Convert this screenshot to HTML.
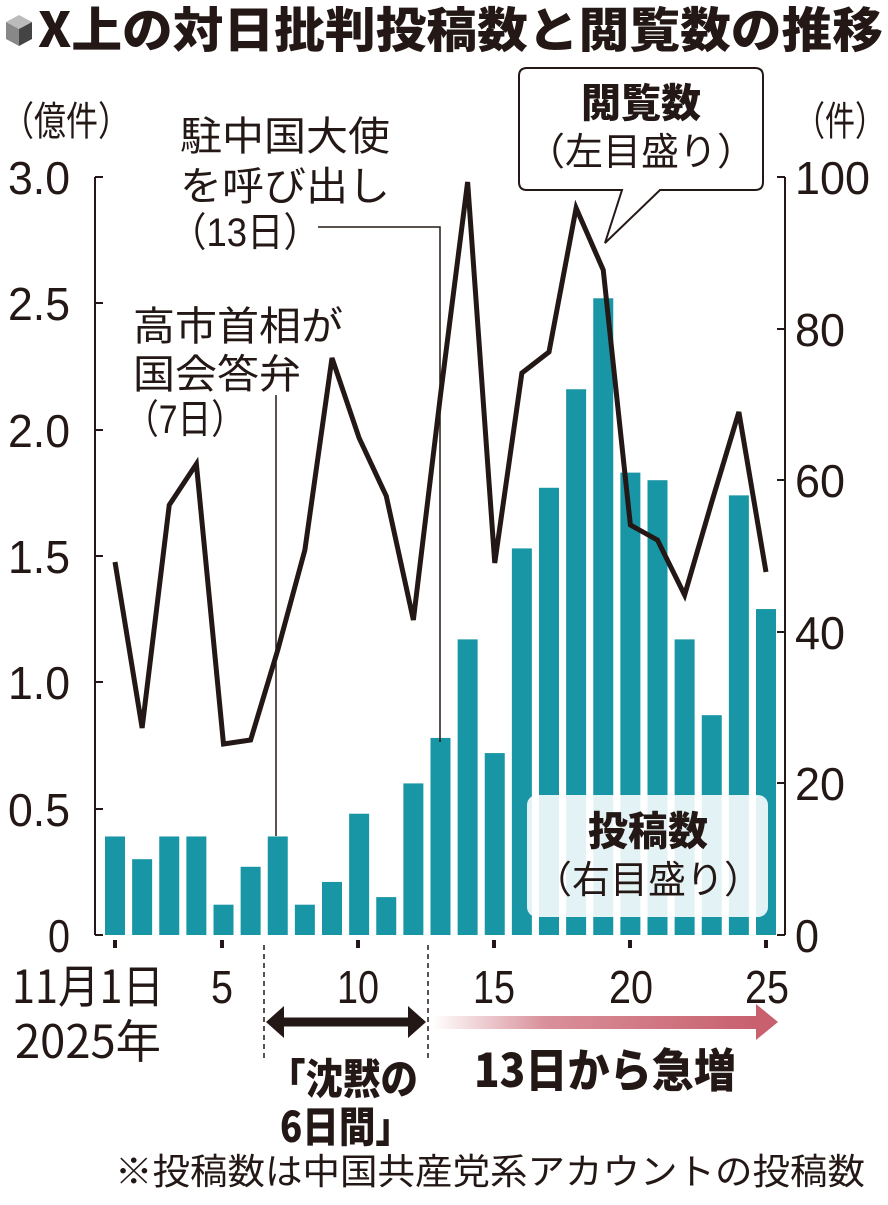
<!DOCTYPE html>
<html><head><meta charset="utf-8"><style>
body{margin:0;background:#fff}
text{font-family:"Liberation Sans","Noto Sans CJK JP",sans-serif;fill:#231815}
.j{font-family:"Noto Sans CJK JP",sans-serif}
</style></head><body>
<svg width="888" height="1200" viewBox="0 0 888 1200" xmlns="http://www.w3.org/2000/svg">
<defs><linearGradient id="g" x1="0" x2="1"><stop offset="0" stop-color="#c8606e" stop-opacity="0"/><stop offset="0.35" stop-color="#c8606e" stop-opacity="0.7"/><stop offset="1" stop-color="#c8606e"/></linearGradient></defs>
<polygon points="6,22 19,15 32,22 19,29" fill="#bbb"/><polygon points="6,22 19,29 19,46 6,39" fill="#888"/><polygon points="32,22 19,29 19,46 32,39" fill="#444"/>
<text x="38" y="47" class="j" font-size="48" font-weight="900" textLength="845" lengthAdjust="spacingAndGlyphs">X上の対日批判投稿数と閲覧数の推移</text>
<text x="2" y="135" class="j" font-size="40" textLength="128" lengthAdjust="spacingAndGlyphs">（億件）</text>
<text x="795" y="135" class="j" font-size="40" textLength="90" lengthAdjust="spacingAndGlyphs">（件）</text>
<g font-size="46">
<text x="8" y="194" textLength="62" lengthAdjust="spacingAndGlyphs">3.0</text>
<text x="8" y="320" textLength="62" lengthAdjust="spacingAndGlyphs">2.5</text>
<text x="8" y="447" textLength="62" lengthAdjust="spacingAndGlyphs">2.0</text>
<text x="8" y="573" textLength="62" lengthAdjust="spacingAndGlyphs">1.5</text>
<text x="8" y="699" textLength="62" lengthAdjust="spacingAndGlyphs">1.0</text>
<text x="8" y="826" textLength="62" lengthAdjust="spacingAndGlyphs">0.5</text>
<text x="48" y="952" textLength="22" lengthAdjust="spacingAndGlyphs">0</text>
</g>
<g font-size="46">
<text x="795" y="194" textLength="75" lengthAdjust="spacingAndGlyphs">100</text>
<text x="795" y="346" textLength="50" lengthAdjust="spacingAndGlyphs">80</text>
<text x="795" y="497" textLength="50" lengthAdjust="spacingAndGlyphs">60</text>
<text x="795" y="649" textLength="50" lengthAdjust="spacingAndGlyphs">40</text>
<text x="795" y="800" textLength="50" lengthAdjust="spacingAndGlyphs">20</text>
<text x="795" y="952" textLength="24" lengthAdjust="spacingAndGlyphs">0</text>
</g>
<g stroke="#231815" stroke-width="2" fill="none">
<path d="M95,177V935M95,177h8M95,303h8M95,430h8M95,556h8M95,682h8M95,809h8M95,935h8"/>
<path d="M785,177V935M785,177h-8M785,329h-8M785,480h-8M785,632h-8M785,783h-8M785,935h-8"/>
</g>
<g fill="#1996a5" id="bars"></g>
<g class="j" font-size="40">
<text x="180" y="150" textLength="210" lengthAdjust="spacingAndGlyphs">駐中国大使</text>
<text x="180" y="200" textLength="210" lengthAdjust="spacingAndGlyphs">を呼び出し</text>
<text x="170" y="246" textLength="150" lengthAdjust="spacingAndGlyphs">（13日）</text>
<text x="133" y="340" textLength="210" lengthAdjust="spacingAndGlyphs">高市首相が</text>
<text x="133" y="388" textLength="168" lengthAdjust="spacingAndGlyphs">国会答弁</text>
<text x="125" y="433" textLength="120" lengthAdjust="spacingAndGlyphs">（7日）</text>
</g>
<path d="M318,227H440V742" stroke="#231815" stroke-width="1.5" fill="none"/>
<path d="M276,395V836" stroke="#231815" stroke-width="1.5" fill="none"/>
<rect x="527" y="795" width="241" height="122" rx="10" fill="#fff" fill-opacity="0.88"/>
<text x="648" y="845" class="j" font-size="40" font-weight="900" text-anchor="middle">投稿数</text>
<text x="648" y="893" class="j" font-size="38" text-anchor="middle">（右目盛り）</text>
<polyline id="ln" fill="none" stroke="#231815" stroke-width="5" stroke-linejoin="miter"/>
<path d="M527,68H755Q763,68 763,76V182Q763,190 755,190H660L605,243L622,190H527Q519,190 519,182V76Q519,68 527,68Z" fill="#fff" stroke="#231815" stroke-width="2"/>
<text x="641" y="117" class="j" font-size="40" font-weight="900" text-anchor="middle">閲覧数</text>
<text x="641" y="165" class="j" font-size="38" text-anchor="middle">（左目盛り）</text>
<g fill="#231815"><rect x="113" y="940" width="4" height="8"/><rect x="220" y="940" width="4" height="8"/><rect x="356" y="940" width="4" height="8"/><rect x="492" y="940" width="4" height="8"/><rect x="628" y="940" width="4" height="8"/><rect x="764" y="940" width="4" height="8"/></g>
<g font-size="46">
<text x="12" y="1003" class="j" textLength="152" lengthAdjust="spacingAndGlyphs">11月1日</text>
<text x="211" y="1003" textLength="22" lengthAdjust="spacingAndGlyphs">5</text>
<text x="337" y="1003" textLength="42" lengthAdjust="spacingAndGlyphs">10</text>
<text x="473" y="1003" textLength="42" lengthAdjust="spacingAndGlyphs">15</text>
<text x="609" y="1003" textLength="44" lengthAdjust="spacingAndGlyphs">20</text>
<text x="745" y="1003" textLength="44" lengthAdjust="spacingAndGlyphs">25</text>
<text x="15" y="1058" class="j" textLength="146" lengthAdjust="spacingAndGlyphs">2025年</text>
</g>
<path d="M264,945V1060M428,945V1060" stroke="#231815" stroke-width="1.5" stroke-dasharray="5,4"/>
<path d="M282,1022H410" stroke="#231815" stroke-width="9"/>
<polygon points="266,1022 284,1006 284,1038" fill="#231815"/><polygon points="426,1022 408,1006 408,1038" fill="#231815"/>
<rect x="432" y="1016" width="325" height="13" fill="url(#g)"/>
<polygon points="756,1004 778,1022 756,1040" fill="#c8606e"/>
<text x="268" y="1094" class="j" font-size="42" font-weight="900" textLength="150" lengthAdjust="spacingAndGlyphs">「沈黙の</text>
<text x="280" y="1142" class="j" font-size="42" font-weight="900" textLength="132" lengthAdjust="spacingAndGlyphs">6日間」</text>
<text x="474" y="1087" class="j" font-size="46" font-weight="900" textLength="262" lengthAdjust="spacingAndGlyphs">13日から急増</text>
<text x="115" y="1184" class="j" font-size="36" textLength="750" lengthAdjust="spacingAndGlyphs">※投稿数は中国共産党系アカウントの投稿数</text>
</svg>
<script>
var b=[13,10,13,13,4,9,13,4,7,16,5,20,26,39,24,51,59,72,84,61,60,39,29,58,43];
var L=[562,728,505,464,744,740,650,550,358,438,496,620,395,182,563,373,352,208,270,525,540,595,502,412,572];
var g=document.getElementById('bars'),s='',p=[];
for(var i=0;i<25;i++){var x=115+i*27.125,h=b[i]*7.58;
s+='<rect x="'+(x-10)+'" y="'+(935-h)+'" width="20" height="'+h+'"/>';p.push(x+','+L[i]);}
g.innerHTML=s;document.getElementById('ln').setAttribute('points',p.join(' '));
</script>
</body></html>
